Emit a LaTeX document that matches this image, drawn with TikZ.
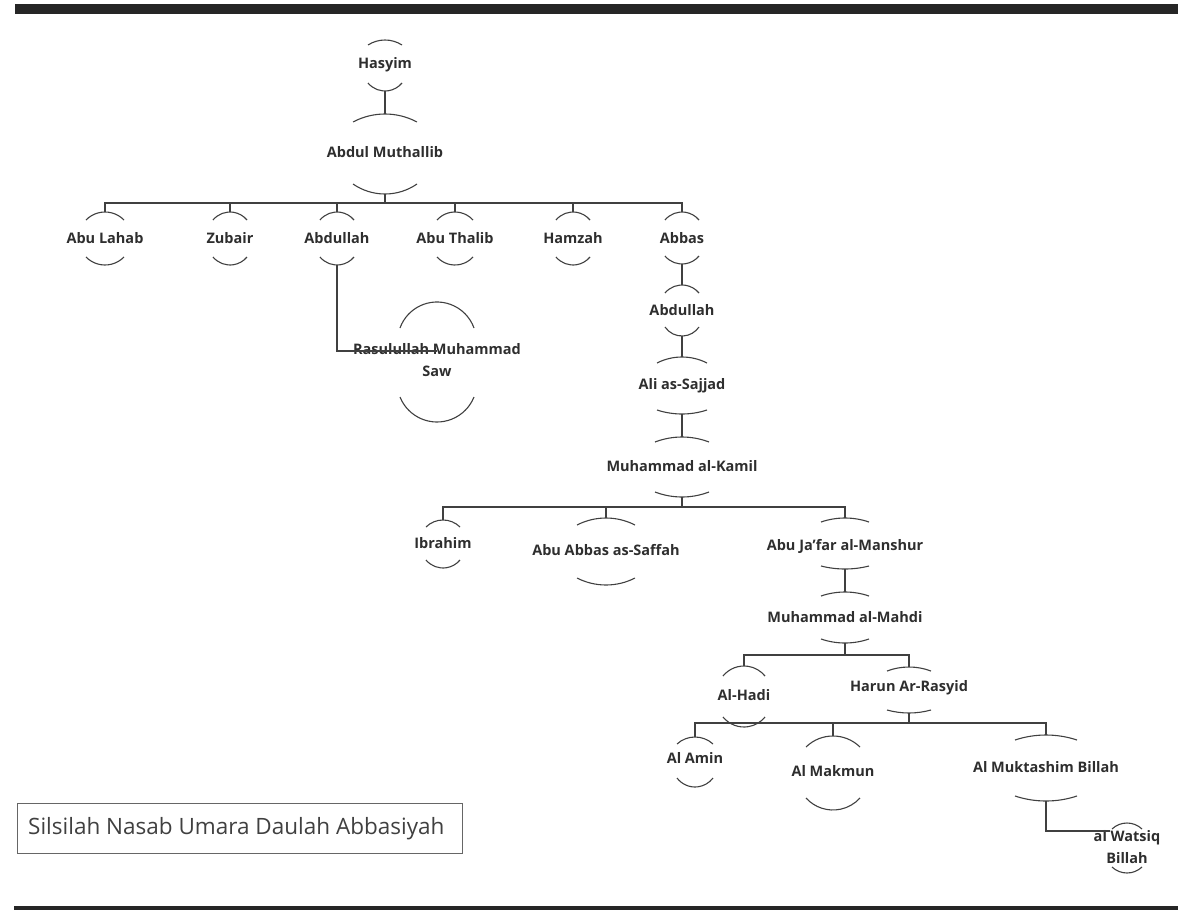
\documentclass[tikz,border=0pt]{standalone}
\usepackage{fontspec}
\setmainfont{Open Sans}
\tikzset{
  lbl/.style={font=\fontsize{14.5}{21.5}\selectfont\bfseries, text=black!82, align=center, inner sep=0pt},
  arcline/.style={draw=black!75, line width=1.1pt},
  conn/.style={draw=black!75, line width=1.4pt},
  titlebox/.style={draw=black!60, line width=1.2pt, inner sep=0pt, anchor=north west, minimum width=445pt, minimum height=50pt},
  titletext/.style={font=\fontsize{22.5}{26}\selectfont, text=black!75, inner sep=0pt, anchor=west}
}
% name, cx, cy, text, top peak, top sag, bottom peak, bottom sag, half width
\newcommand\famnode[9]{%
  \node[lbl] (#1) at (#2,-#3) {#4};
  \coordinate (#1-t) at (#2,-#5);
  \coordinate (#1-b) at (#2,-#7);
  \pgfmathsetmacro\myRt{(#9*#9+#6*#6)/(2*#6)}%
  \pgfmathsetmacro\myAt{asin(#9/\myRt)}%
  \draw[arcline] (#2-#9,-#5-#6) arc[start angle=90+\myAt, end angle=90-\myAt, radius=\myRt];
  \pgfmathsetmacro\myRb{(#9*#9+#8*#8)/(2*#8)}%
  \pgfmathsetmacro\myAb{asin(#9/\myRb)}%
  \draw[arcline] (#2-#9,-#7+#8) arc[start angle=270-\myAb, end angle=270+\myAb, radius=\myRb];
}
\begin{document}
\begin{tikzpicture}[x=1pt,y=1pt]
\useasboundingbox (0,0) rectangle (1178,-910);
% bars
\fill[black!85] (15,-3.5) rectangle (1178,-14);
\fill[black!85] (14,-905.5) rectangle (1178,-910);
% title
\node[titlebox] (titlebox) at (17,-803) {};
\node[titletext] (title) at ([xshift=11pt]titlebox.west) {Silsilah Nasab Umara Daulah Abbasiyah};
% nodes
\famnode{hasyim}{385}{65}{Hasyim}{40}{5}{91}{8}{17}
\famnode{abdm}{385}{152}{Abdul Muthallib}{114}{8}{194}{10}{32}
\famnode{abulahab}{105}{238}{Abu Lahab}{212}{8}{265}{8}{19}
\famnode{zubair}{230}{238}{Zubair}{212}{8}{265}{8}{17}
\famnode{abdullah1}{337}{238}{Abdullah}{212}{8}{265}{8}{17}
\famnode{abuthalib}{455}{238}{Abu Thalib}{212}{8}{265}{8}{18}
\famnode{hamzah}{573}{238}{Hamzah}{212}{8}{265}{8}{17}
\famnode{abbas}{682}{238}{Abbas}{212}{8}{264}{8}{17}
\famnode{rasul}{437}{360}{Rasulullah Muhammad\\Saw}{302}{26}{422}{25}{37}
\famnode{abdullah2}{682}{310}{Abdullah}{285}{8}{336}{9}{17}
\famnode{ali}{682}{386}{Ali as-Sajjad}{357}{6}{414}{4}{25}
\famnode{kamil}{682}{466}{Muhammad al-Kamil}{437}{5}{497}{5}{27}
\famnode{ibrahim}{443}{543}{Ibrahim}{520}{7}{568}{8}{17}
\famnode{saffah}{606}{550}{Abu Abbas as-Saffah}{518}{7}{585}{7}{29}
\famnode{mansur}{845}{546}{Abu Ja'far al-Manshur}{518}{4}{569}{3}{24}
\famnode{mahdi}{845}{617}{Muhammad al-Mahdi}{592}{4}{643}{4}{24}
\famnode{hadi}{744}{695}{Al-Hadi}{666}{10}{727}{10}{21}
\famnode{harun}{909}{688}{Harun Ar-Rasyid}{667}{4}{713}{3}{22}
\famnode{amin}{695}{758}{Al Amin}{737}{7}{787}{9}{18}
\famnode{makmun}{833}{771}{Al Makmun}{736}{11}{810}{12}{27}
\famnode{muktashim}{1046}{767}{Al Muktashim Billah}{735}{5}{801}{5}{31}
\famnode{watsiq}{1127}{847}{al Watsiq\\Billah}{823}{6}{873}{6}{15}
% junctions
\coordinate (j1) at (385,-203);
\coordinate (j2) at (682,-507);
\coordinate (j3) at (845,-655);
\coordinate (j4) at (909,-723);
\coordinate (rasul-in) at (437,-351);
\coordinate (watsiq-in) at (1110,-831);
% connectors
\draw[conn] (hasyim-b) -- (abdm-t);
\draw[conn] (abdm-b) -- (j1);
\foreach \c in {abulahab,zubair,abdullah1,abuthalib,hamzah,abbas}
  \draw[conn] (j1) -| (\c-t);
\draw[conn] (abdullah1-b) |- (rasul-in);
\draw[conn] (abbas-b) -- (abdullah2-t);
\draw[conn] (abdullah2-b) -- (ali-t);
\draw[conn] (ali-b) -- (kamil-t);
\draw[conn] (kamil-b) -- (j2);
\foreach \c in {ibrahim,saffah,mansur}
  \draw[conn] (j2) -| (\c-t);
\draw[conn] (mansur-b) -- (mahdi-t);
\draw[conn] (mahdi-b) -- (j3);
\foreach \c in {hadi,harun}
  \draw[conn] (j3) -| (\c-t);
\draw[conn] (harun-b) -- (j4);
\foreach \c in {amin,makmun,muktashim}
  \draw[conn] (j4) -| (\c-t);
\draw[conn] (muktashim-b) |- (watsiq-in);
\end{tikzpicture}
\end{document}
